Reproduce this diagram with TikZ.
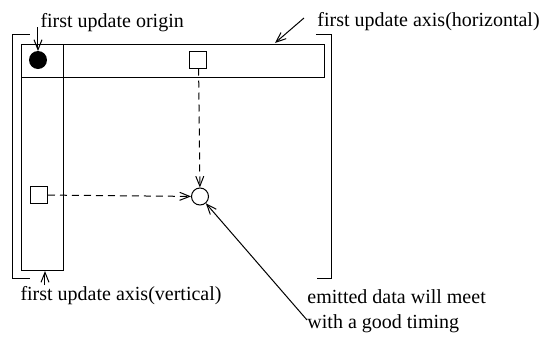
\documentclass[tikz,border=0pt]{standalone}
\usepackage{fontspec}
\setmainfont{Liberation Serif}
\usetikzlibrary{arrows.meta}
\begin{document}
\begin{tikzpicture}[x=0.5pt,y=-0.5pt,
  line width=0.5pt,
  lbl/.style={anchor=base west,inner sep=0pt,font=\fontsize{10}{12.5}\selectfont},
  pointer/.style={-{Straight Barb[length=5pt,width=4pt]}},
  flow/.style={pointer,dash pattern=on 3.5pt off 2.5pt},
  cell/.style={draw,minimum size=8.5pt,inner sep=0pt}]
\useasboundingbox (0,0) rectangle (543,360);

% brackets around the field
\draw (30,34) -- (13,34) -- (13,278) -- (30,278);
\draw (316,34) -- (332,34) -- (332,278) -- (317,278);

% update axes
\draw (22,44) rectangle (325,77);
\draw (22,77) -- (22,270) -- (64,270) -- (64,44);

% origin and cells
\node[circle,fill=black,minimum size=9pt,inner sep=0pt] (org) at (38,60) {};
\node[cell] (hc) at (198.5,59.5) {};
\node[cell] (vc) at (39,195) {};
\node[circle,draw,minimum size=8.5pt,inner sep=0pt] (meet) at (200,196.5) {};

\draw[flow] (hc) -- (meet);
\draw[flow] (vc) -- (meet);

% labels
\node[lbl] (t1) at (40,27) {first update origin};
\node[lbl] (t2) at (317,26) {first update axis(horizontal)};
\node[lbl] (t3) at (20,300) {first update axis(vertical)};
\node[lbl,align=left] (t4) at (307,328) {emitted data will meet\\with a good timing};

\coordinate (s1) at (38,27);
\coordinate (e1) at (38,51);
\coordinate (s2) at (304,18);
\coordinate (e2) at (275,43);
\coordinate (s3) at (45,285);
\coordinate (e3) at (45,271);
\coordinate (s4) at (307,320);

\draw[pointer] (s1) -- (e1);
\draw[pointer] (s2) -- (e2);
\draw[pointer] (s3) -- (e3);
\draw[pointer] (s4) -- (meet);
\end{tikzpicture}
\end{document}
